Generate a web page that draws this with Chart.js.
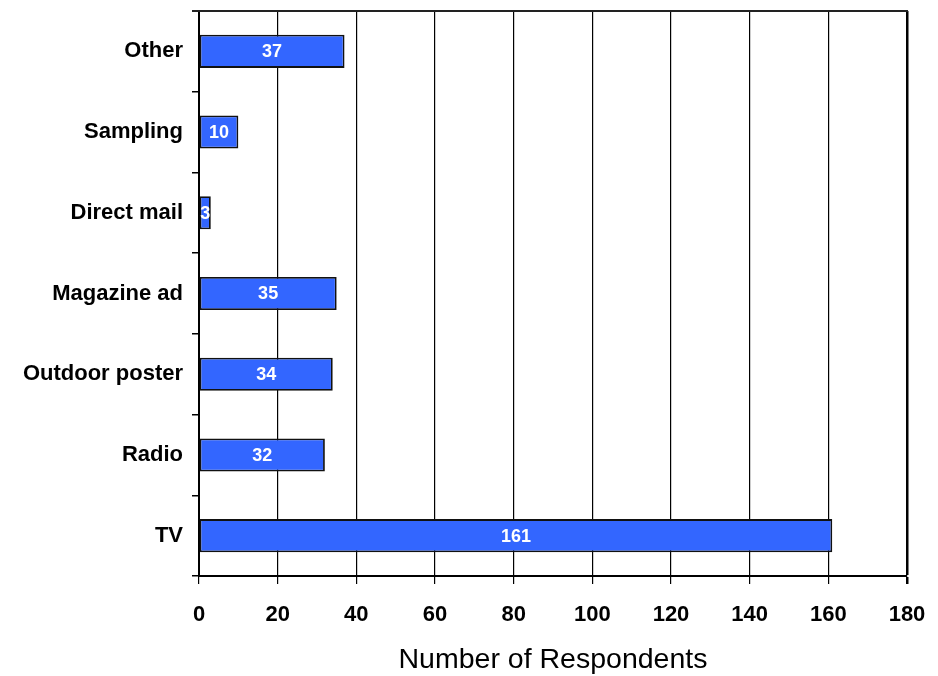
<!DOCTYPE html>
<html>
<head>
<meta charset="utf-8">
<title>Number of Respondents by Source</title>
<script src="https://cdn.jsdelivr.net/npm/chart.js@4/dist/chart.umd.min.js"></script>
<style>
  html, body { margin: 0; padding: 0; background: #ffffff; }
  #wrap { width: 938px; height: 676px; }
</style>
</head>
<body>
<div id="wrap"><canvas id="chart" width="938" height="676"></canvas></div>
<script>
// Source categories, listed top to bottom
const categories = ['Other', 'Sampling', 'Direct mail', 'Magazine ad', 'Outdoor poster', 'Radio', 'TV'];
// Respondents per source
const respondents = [37, 10, 3, 35, 34, 32, 161];
// Value axis range
const xMin = 0;
const xMax = 180;
const xStep = 20;
const xTitle = 'Number of Respondents';

const FONT = 'Arial, "Liberation Sans", sans-serif';

// Writes each bar's value in white, centred on the bar
const valueLabels = {
  id: 'valueLabels',
  afterDatasetsDraw(chart) {
    const ctx = chart.ctx;
    const meta = chart.getDatasetMeta(0);
    ctx.save();
    ctx.fillStyle = '#ffffff';
    ctx.font = 'bold 18px ' + FONT;
    ctx.textAlign = 'center';
    ctx.textBaseline = 'middle';
    meta.data.forEach((bar, i) => {
      const cx = (bar.x + bar.base) / 2;
      ctx.fillText(String(chart.data.datasets[0].data[i]), cx, bar.y + 1);
    });
    ctx.restore();
  }
};

// Closes the frame along the top of the plot area
const topFrame = {
  id: 'topFrame',
  afterDraw(chart) {
    const { ctx, chartArea } = chart;
    ctx.save();
    ctx.strokeStyle = '#222222';
    ctx.lineWidth = 2;
    ctx.beginPath();
    ctx.moveTo(chartArea.left - 7, chartArea.top);
    ctx.lineTo(chartArea.right + 1, chartArea.top);
    ctx.stroke();
    ctx.restore();
  }
};

new Chart(document.getElementById('chart'), {
  type: 'bar',
  data: {
    labels: categories,
    datasets: [{
      data: respondents,
      backgroundColor: '#3366ff',
      borderColor: '#111111',
      borderWidth: 1.8,
      borderSkipped: false,
      barPercentage: 0.41,
      categoryPercentage: 1.0
    }]
  },
  options: {
    indexAxis: 'y',
    responsive: false,
    animation: false,
    layout: { padding: { left: 0, right: 31, top: 11, bottom: 0 } },
    plugins: {
      legend: { display: false },
      tooltip: { enabled: false }
    },
    scales: {
      x: {
        min: xMin,
        max: xMax,
        afterFit(scale) {
          scale.height = 100;
          scale.paddingLeft = 0;
          scale.paddingRight = 0;
        },
        ticks: {
          stepSize: xStep,
          color: '#000000',
          font: { family: FONT, size: 22, weight: 'bold' },
          padding: 18,
          maxRotation: 0
        },
        grid: {
          color: '#000000',
          lineWidth: (c) => (c.tick && c.tick.value === xMax ? 2.5 : 1.2),
          tickLength: 8,
          drawTicks: true
        },
        border: { display: true, color: '#000000', width: 2 },
        title: {
          display: true,
          text: xTitle,
          color: '#000000',
          font: { family: FONT, size: 28.5, weight: 'normal', lineHeight: 1.08 },
          padding: { top: 4, bottom: 0 }
        }
      },
      y: {
        afterFit(scale) {
          scale.width = 199;
          scale.paddingTop = 0;
          scale.paddingBottom = 0;
        },
        ticks: {
          color: '#000000',
          font: { family: FONT, size: 22, weight: 'bold' },
          padding: 9
        },
        grid: {
          drawOnChartArea: false,
          drawTicks: true,
          tickLength: 7,
          color: '#000000',
          lineWidth: 1.5
        },
        border: { display: true, color: '#000000', width: 2 }
      }
    }
  },
  plugins: [valueLabels, topFrame]
});
</script>
</body>
</html>
